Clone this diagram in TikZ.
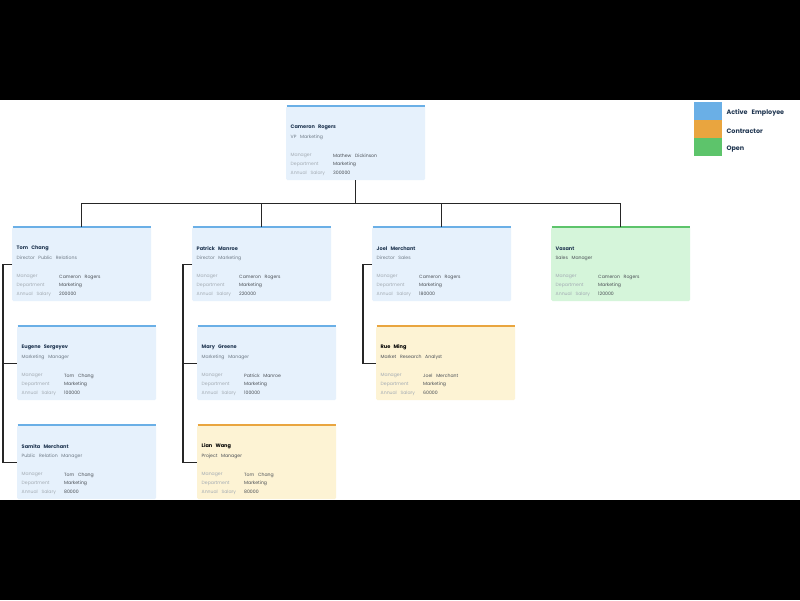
\documentclass[tikz,border=0pt]{standalone}
\usepackage{fontspec}
\setmainfont[WordSpace=3]{Poppins}
\usetikzlibrary{positioning}

\definecolor{actblue}{HTML}{6AAFE6}
\definecolor{conorange}{HTML}{E9A53F}
\definecolor{opengreen}{HTML}{5DC46B}
\definecolor{bluefill}{HTML}{E6F1FC}
\definecolor{orangefill}{HTML}{FDF3D4}
\definecolor{greenfill}{HTML}{D5F5DA}
\definecolor{namecol}{HTML}{1F3550}
\definecolor{titlecol}{HTML}{6E7A86}
\definecolor{labelcol}{HTML}{A3ABB3}
\definecolor{valuecol}{HTML}{4A4F55}

\tikzset{
    card/.style={minimum width=139pt,minimum height=74pt,inner sep=0pt,anchor=north west,rounded corners=1.5pt},
    link/.style={draw=black!85,line width=1.1pt},
    empname/.style={anchor=west,inner sep=0pt,font=\fontsize{5}{6}\selectfont\bfseries,text=namecol},
    emptitle/.style={anchor=west,inner sep=0pt,font=\fontsize{4.6}{5.5}\selectfont,text=titlecol},
    emplabel/.style={anchor=west,inner sep=0pt,font=\fontsize{4.6}{5.5}\selectfont,text=labelcol},
    empvalue/.style={anchor=west,inner sep=0pt,font=\fontsize{4.6}{5.5}\selectfont,text=valuecol},
    legtext/.style={anchor=west,inner sep=0pt,font=\fontsize{6.4}{7.5}\selectfont\bfseries,text=namecol}
}

% #1 node, #2 position, #3 fill, #4 top line, #5 name, #6 title, #7 manager, #8 salary
\newcommand{\empcard}[8]{%
    \node[card,fill=#3] (#1) at #2 {};
    \draw[#4,line width=1.3pt] ([xshift=0.6pt]#1.north west) -- ([xshift=-0.6pt]#1.north east);
    \node[empname] at ([shift={(4.5,21.5)}]#1.north west) {#5};
    \node[emptitle] at ([shift={(4.5,31)}]#1.north west) {#6};
    \node[emplabel] at ([shift={(4.5,50)}]#1.north west) {Manager};
    \node[emplabel] at ([shift={(4.5,58.5)}]#1.north west) {Department};
    \node[emplabel] at ([shift={(4.5,67)}]#1.north west) {Annual Salary};
    \node[empvalue] at ([shift={(47,50)}]#1.north west) {#7};
    \node[empvalue] at ([shift={(47,58.5)}]#1.north west) {Marketing};
    \node[empvalue] at ([shift={(47,67)}]#1.north west) {#8};
}

\begin{document}
\begin{tikzpicture}[x=1pt,y=-1pt]
    \useasboundingbox (0,0) rectangle (800,600);
    \fill[black] (0,0) rectangle (800,600);
    \fill[white] (0,100) rectangle (800,500);

    % cards
    \empcard{cameron}{(286,106)}{bluefill}{actblue}{Cameron Rogers}{VP Marketing}{Mathew Dickinson}{300000}
    \empcard{tom}{(12,227)}{bluefill}{actblue}{Tom Chang}{Director Public Relations}{Cameron Rogers}{200000}
    \empcard{patrick}{(192,227)}{bluefill}{actblue}{Patrick Manroe}{Director Marketing}{Cameron Rogers}{220000}
    \empcard{joel}{(372,227)}{bluefill}{actblue}{Joel Merchant}{Director Sales}{Cameron Rogers}{180000}
    \empcard{vasant}{(551,227)}{greenfill}{opengreen}{Vasant}{\color{valuecol}Sales Manager}{Cameron Rogers}{120000}
    \empcard{eugene}{(17,326)}{bluefill}{actblue}{Eugene Sergeyev}{Marketing Manager}{Tom Chang}{100000}
    \empcard{mary}{(197,326)}{bluefill}{actblue}{Mary Greene}{Marketing Manager}{Patrick Manroe}{100000}
    \empcard{rue}{(376,326)}{orangefill}{conorange}{\color{black}Rue Ming}{\color{valuecol}Market Research Analyst}{Joel Merchant}{60000}
    \empcard{samita}{(17,425)}{bluefill}{actblue}{Samita Merchant}{Public Relation Manager}{Tom Chang}{80000}
    \empcard{lian}{(197,425)}{orangefill}{conorange}{\color{black}Lian Wang}{\color{valuecol}Project Manager}{Tom Chang}{80000}

    % connectors
    \draw[link] (cameron.south) -- ++(0,23) -| (tom.north);
    \draw[link] (cameron.south) -- ++(0,23) -| (patrick.north);
    \draw[link] (cameron.south) -- ++(0,23) -| (joel.north);
    \draw[link] (cameron.south) -- ++(0,23) -| (vasant.north);
    \draw[link] (tom.west) -- ++(-9,0) |- (eugene.west);
    \draw[link] (tom.west) -- ++(-9,0) |- (samita.west);
    \draw[link] (patrick.west) -- ++(-9,0) |- (mary.west);
    \draw[link] (patrick.west) -- ++(-9,0) |- (lian.west);
    \draw[link] (joel.west) -- ++(-9,0) |- (rue.west);

    % legend
    \node[minimum width=28pt,minimum height=18pt,inner sep=0pt,anchor=north west,fill=actblue] (legact) at (694,102) {};
    \node[minimum width=28pt,minimum height=18pt,inner sep=0pt,anchor=north west,fill=conorange] (legcon) at (694,120) {};
    \node[minimum width=28pt,minimum height=18pt,inner sep=0pt,anchor=north west,fill=opengreen] (legopen) at (694,138) {};
    \node[legtext] at ([shift={(4,2)}]legact.east) {Active Employee};
    \node[legtext] at ([shift={(4,2)}]legcon.east) {Contractor};
    \node[legtext] at ([shift={(4,2)}]legopen.east) {Open};
\end{tikzpicture}
\end{document}
